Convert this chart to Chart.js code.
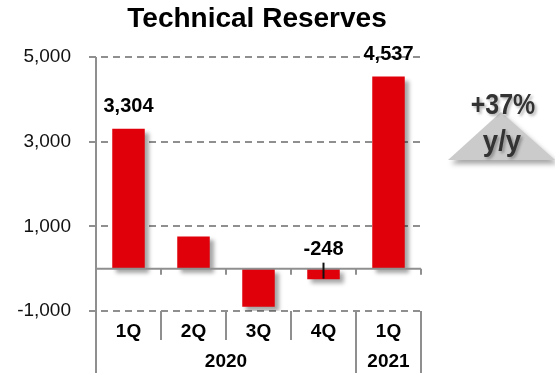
<!DOCTYPE html>
<html>
<head>
<meta charset="utf-8">
<script src="https://cdn.jsdelivr.net/npm/chart.js@4.4.1/dist/chart.umd.min.js"></script>
<style>
html,body{margin:0;padding:0;background:#fff}
#wrap{width:555px;height:373px;position:relative}
</style>
</head>
<body>
<div id="wrap"><canvas id="ch"></canvas></div>
<script>
// data
const quarters=['1Q','2Q','3Q','4Q','1Q'];
const years=['2020','2021'];
const yearSpan=[4,1];
const reserves=[3304,760,-900,-248,4537];
const shownLabels=['3,304',null,null,'-248','4,537'];
const yTicks=[-1000,1000,3000,5000];
const growthText=['+37%','y/y'];

const FONT='"Liberation Sans", Arial, sans-serif';
const GRID='#8f8f8f';

// draws grid, title, zero line, axis line, category table, labels, badge
const deco={
  id:'deco',
  beforeDatasetsDraw(c){
    const {ctx,chartArea:a,scales:{y}}=c;
    // dashed grid
    ctx.save();
    ctx.strokeStyle=GRID;ctx.lineWidth=2;ctx.setLineDash([7,5]);
    yTicks.forEach(v=>{
      const py=Math.round(y.getPixelForValue(v));
      ctx.beginPath();ctx.moveTo(a.left-7,py);ctx.lineTo(a.right,py);ctx.stroke();
    });
    ctx.restore();
    ctx.save();
    ctx.shadowColor='rgba(0,0,0,0.35)';
    ctx.shadowOffsetX=4;ctx.shadowOffsetY=4;ctx.shadowBlur=4;
  },
  afterDatasetsDraw(c){
    const {ctx,chartArea:a,scales:{x,y}}=c;
    ctx.restore();
    const y0=y.getPixelForValue(0);
    const H=c.height;
    ctx.save();
    // zero line
    ctx.strokeStyle=GRID;ctx.lineWidth=2;
    ctx.beginPath();ctx.moveTo(a.left,y0);ctx.lineTo(a.right,y0);ctx.stroke();
    // y axis line
    ctx.beginPath();ctx.moveTo(a.left,a.top);ctx.lineTo(a.left,H);ctx.stroke();
    // boundaries
    const n=quarters.length;
    const bw=(a.right-a.left)/n;
    let yearEnds=[];let acc=0;yearSpan.forEach(s=>{acc+=s;yearEnds.push(acc);});
    for(let i=1;i<=n;i++){
      const bx=a.left+bw*i;
      ctx.beginPath();ctx.moveTo(bx,y0);ctx.lineTo(bx,y0+6);ctx.stroke();
      ctx.beginPath();ctx.moveTo(bx,a.bottom);
      ctx.lineTo(bx,yearEnds.includes(i)?H:a.bottom+29);ctx.stroke();
    }
    // category labels
    ctx.fillStyle='#000';ctx.textAlign='center';ctx.textBaseline='middle';
    ctx.font='bold 19px '+FONT;
    quarters.forEach((q,i)=>ctx.fillText(q,x.getPixelForValue(i),a.bottom+21));
    let start=0;
    years.forEach((yr,k)=>{
      const cx=a.left+bw*(start+yearSpan[k]/2);
      ctx.fillText(yr,cx,a.bottom+51);
      start+=yearSpan[k];
    });
    // value labels
    ctx.font='bold 20px '+FONT;
    reserves.forEach((v,i)=>{
      if(!shownLabels[i])return;
      const px=x.getPixelForValue(i);
      const py=v>=0?y.getPixelForValue(v)-22:y0-19;
      ctx.fillText(shownLabels[i],px,py);
    });
    // marker on 4Q
    const mx=x.getPixelForValue(3);
    ctx.strokeStyle='#111';ctx.lineWidth=2;
    ctx.beginPath();ctx.moveTo(mx,y0-6);ctx.lineTo(mx,y0+10);ctx.stroke();
    // title
    ctx.font='bold 28px '+FONT;ctx.fillStyle='#000';
    ctx.fillText('Technical Reserves',257,19);
    // growth badge
    ctx.save();
    ctx.shadowColor='rgba(0,0,0,0.35)';ctx.shadowOffsetX=3;ctx.shadowOffsetY=4;ctx.shadowBlur=5;
    ctx.fillStyle='#cbcbcb';
    ctx.beginPath();ctx.moveTo(448,160);ctx.lineTo(501,112);ctx.lineTo(555,160);ctx.closePath();ctx.fill();
    ctx.restore();
    ctx.save();
    ctx.shadowColor='rgba(0,0,0,0.3)';ctx.shadowOffsetX=2;ctx.shadowOffsetY=2;ctx.shadowBlur=3;
    ctx.fillStyle='#333';ctx.font='bold 29px '+FONT;
    ctx.save();ctx.translate(503,106);ctx.scale(0.86,1);ctx.fillText(growthText[0],0,0);ctx.restore();
    ctx.save();ctx.translate(502,143);ctx.scale(0.95,1);ctx.fillText(growthText[1],0,0);ctx.restore();
    ctx.restore();
    ctx.restore();
  }
};

new Chart(document.getElementById('ch'),{
  type:'bar',
  data:{labels:quarters,datasets:[{data:reserves,backgroundColor:'#e0000a',borderWidth:0,barPercentage:0.5,categoryPercentage:1}]},
  options:{
    responsive:true,maintainAspectRatio:false,animation:false,
    layout:{padding:{top:57,right:134,bottom:62,left:0}},
    plugins:{legend:{display:false},tooltip:{enabled:false},title:{display:false}},
    scales:{
      x:{display:false},
      y:{
        min:-1000,max:5000,
        afterBuildTicks(s){s.ticks=yTicks.map(v=>({value:v}));},
        afterFit(s){s.width=96;},
        border:{display:false},
        grid:{display:false},
        ticks:{color:'#111',font:{family:FONT,size:19},padding:17,
          callback:v=>v.toLocaleString('en-US')}
      }
    }
  },
  plugins:[deco]
});
</script>
</body>
</html>
